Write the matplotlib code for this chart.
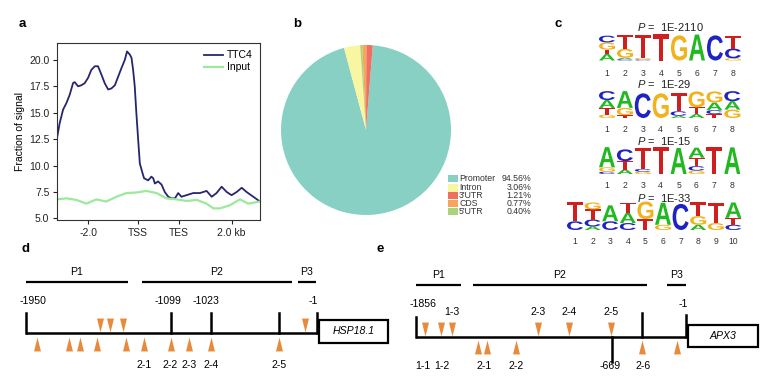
import matplotlib
matplotlib.use("Agg")
import matplotlib.pyplot as plt
from matplotlib.textpath import TextPath
from matplotlib.font_manager import FontProperties
from matplotlib.patches import PathPatch, Rectangle
import matplotlib.transforms as mtransforms

plt.rcParams['font.family'] = ['Liberation Sans', 'DejaVu Sans']
plt.rcParams['mathtext.fontset'] = 'custom'
plt.rcParams['mathtext.rm'] = 'Liberation Sans'
plt.rcParams['mathtext.it'] = 'Liberation Sans:italic'

# ---------------- Panel a data ----------------
ttc4_x = [0, 1.3, 3, 4.6, 6.25, 7.9, 8.7, 10.4, 12, 13.65, 15.3, 16.9, 18.6, 20.2, 21.9,
          23.5, 25.2, 26.8, 28.5, 30.1, 31.7, 33.4, 34.5, 35.9, 36.7, 37.5, 38.3, 39.1,
          40, 40.8, 42.1, 42.9, 44.9, 46.5, 47.4, 48.2, 49.8, 51.5, 53.1, 54.8, 56.4,
          58.1, 59.7, 61.3, 63.8, 67.1, 70.4, 73.7, 76.2, 78.6, 81.1, 83.6, 86, 88.5,
          91, 93.4, 96.7, 100]
ttc4_y = [12.6, 14.0, 15.3, 15.9, 16.7, 17.8, 17.9, 17.5, 17.6, 17.8, 18.3, 19.05, 19.4,
          19.4, 18.6, 17.8, 17.2, 17.3, 17.6, 18.4, 19.2, 20.0, 20.8, 20.5, 20.2, 19.05,
          17.5, 14.95, 12.4, 10.2, 9.3, 8.8, 8.6, 8.95, 8.8, 8.3, 8.5, 8.2, 7.5, 7.05,
          6.9, 6.9, 7.4, 7.05, 7.2, 7.4, 7.4, 7.6, 7.05, 7.4, 8.0, 7.5, 7.2, 7.5, 7.9,
          7.5, 7.05, 6.6]
input_x = [0, 4.6, 9.5, 14.5, 19.4, 24.3, 29.3, 34.2, 39.1, 44.1, 49, 53.9, 58.9, 63.8,
           68.8, 73.7, 77, 80.3, 85.2, 90.1, 94.2, 100]
input_y = [6.8, 6.9, 6.75, 6.4, 6.8, 6.6, 7.05, 7.4, 7.45, 7.6, 7.4, 6.9, 6.8, 6.65,
           6.75, 6.4, 5.95, 5.95, 6.25, 6.8, 6.4, 6.6]
a_xticks = [15.3, 40, 60, 86]
a_xticklabels = ['-2.0', 'TSS', 'TES', '2.0 kb']
a_yticks = [5.0, 7.5, 10.0, 12.5, 15.0, 17.5, 20.0]

# ---------------- Panel b data ----------------
pie_labels = ['Promoter', 'Intron', '3\'UTR', 'CDS', '5\'UTR']
pie_values = [94.56, 3.06, 1.21, 0.77, 0.40]
pie_colors = ['#88d0c4', '#f9f6a2', '#ef705e', '#f5a65c', '#a9d47c']
pie_draw_order = [0, 1, 4, 3, 2]

# ---------------- Panel c data ----------------
logo_titles = ['1E-2110', '1E-29', '1E-15', '1E-33']
motif1 = [
    [('A', 0.24), ('T', 0.16), ('G', 0.27), ('C', 0.25)],
    [('C', 0.05), ('A', 0.05), ('G', 0.33), ('T', 0.53)],
    [('C', 0.04), ('G', 0.05), ('T', 0.87)],
    [('T', 0.97)],
    [('G', 0.93)],
    [('A', 0.96)],
    [('C', 0.93)],
    [('G', 0.08), ('C', 0.36), ('T', 0.47)],
]
motif2 = [
    [('G', 0.12), ('T', 0.24), ('A', 0.28), ('C', 0.32)],
    [('T', 0.1), ('G', 0.26), ('A', 0.6)],
    [('C', 0.88)],
    [('G', 0.88)],
    [('A', 0.08), ('C', 0.16), ('T', 0.66)],
    [('A', 0.14), ('T', 0.24), ('G', 0.57)],
    [('T', 0.14), ('C', 0.14), ('A', 0.27), ('G', 0.4)],
    [('G', 0.3), ('A', 0.3), ('C', 0.36)],
]
motif3 = [
    [('C', 0.08), ('G', 0.16), ('A', 0.72)],
    [('A', 0.16), ('T', 0.3), ('C', 0.42)],
    [('G', 0.08), ('C', 0.1), ('T', 0.75)],
    [('T', 0.97)],
    [('A', 0.93)],
    [('G', 0.12), ('C', 0.16), ('T', 0.3), ('A', 0.36)],
    [('T', 0.97)],
    [('A', 0.95)],
]
motif4 = [
    [('C', 0.3), ('T', 0.65)],
    [('A', 0.12), ('C', 0.24), ('T', 0.35), ('G', 0.24)],
    [('C', 0.3), ('A', 0.55)],
    [('C', 0.24), ('A', 0.35), ('T', 0.35)],
    [('T', 0.38), ('G', 0.6)],
    [('G', 0.18), ('A', 0.76)],
    [('C', 0.9)],
    [('A', 0.18), ('G', 0.3), ('T', 0.47)],
    [('G', 0.24), ('T', 0.7)],
    [('C', 0.18), ('T', 0.24), ('A', 0.53)],
]
motifs = [motif1, motif2, motif3, motif4]
letter_colors = {'A': '#22b822', 'C': '#1f22c4', 'G': '#f2b21e', 'T': '#cf1f1f'}

# ---------------- Panel d data ----------------
d_bars = [(26, 128, 'P1'), (142, 292, 'P2'), (298, 316, 'P3')]
d_ticks_x = [26, 171, 211, 279, 317]
d_coord_labels = [('-1950', 33), ('-1099', 168), ('-1023', 206), ('-1', 313)]
d_down = [100, 110, 123, 305]
d_up = [37, 69, 80, 97, 126, 144, 171, 189, 211, 279]
d_site_labels = [('2-1', 144), ('2-2', 170), ('2-3', 189), ('2-4', 211), ('2-5', 279)]
d_gene = 'HSP18.1'

# ---------------- Panel e data ----------------
e_bars = [(416, 461, 'P1'), (473, 647, 'P2'), (667, 686, 'P3')]
e_coord_labels_top = [('-1856', 423), ('-1', 683)]
e_site_labels_top = [('1-3', 452), ('2-3', 538), ('2-4', 569), ('2-5', 611)]
e_down = [425, 441, 452, 538, 569, 611]
e_up = [478, 487, 516, 642, 677]
e_site_labels_bottom = [('1-1', 423), ('1-2', 442), ('2-1', 484), ('2-2', 516),
                        ('-669', 610), ('2-6', 643)]
e_gene = 'APX3'

W, H = 775, 379
fig = plt.figure(figsize=(W / 100, H / 100), dpi=100)

# overlay axes in pixel coordinates
ov = fig.add_axes([0, 0, 1, 1])
ov.set_xlim(0, W)
ov.set_ylim(H, 0)
ov.axis('off')
ov.patch.set_visible(False)

# ---- Panel a ----
ax = fig.add_axes([57 / W, 1 - 220 / H, 203 / W, 177 / H])
ax.plot(ttc4_x, ttc4_y, color='#26266f', lw=1.3, label='TTC4')
ax.plot(input_x, input_y, color='#9be99b', lw=1.6, label='Input')
ax.set_xlim(0, 100)
ax.set_ylim(4.85, 21.6)
ax.set_yticks(a_yticks)
ax.set_yticklabels([f'{v:.1f}' for v in a_yticks], fontsize=7.5)
ax.set_xticks(a_xticks)
ax.set_xticklabels(a_xticklabels, fontsize=7.5)
ax.tick_params(length=3, width=0.8, pad=2.5, colors='#222222')
for s in ax.spines.values():
    s.set_linewidth(0.8)
    s.set_color('#333333')
ax.set_ylabel('Fraction of signal', fontsize=7.5, labelpad=3)
ax.legend(loc='upper right', frameon=False, fontsize=7.5, handlelength=1.8,
          borderaxespad=0.3, labelspacing=0.2, handletextpad=0.4)

# ---- Panel b ----
cx, cy, r = 366, 130, 85
axp = fig.add_axes([(cx - r) / W, 1 - (cy + r) / H, 2 * r / W, 2 * r / H])
vals = [pie_values[i] for i in pie_draw_order]
cols = [pie_colors[i] for i in pie_draw_order]
axp.pie(vals, colors=cols, startangle=85.4, counterclock=False,
        wedgeprops=dict(linewidth=0))
axp.set_xlim(-1, 1)
axp.set_ylim(-1, 1)
axp.set_aspect('equal')

leg_y = [178.5, 188, 195.5, 203.5, 211.5]
for lab, val, col, y in zip(pie_labels, pie_values, pie_colors, leg_y):
    ov.add_patch(Rectangle((448, y - 3.6), 10, 7.2, color=col, lw=0))
    ov.text(459, y, lab, fontsize=6.3, va='center', ha='left', color='#333333')
    ov.text(531, y, f'{val:.2f}%', fontsize=6.3, va='center', ha='right', color='#333333')

# ---- Panel c ----
fp = FontProperties(family='Liberation Sans', weight='bold')
letter_paths = {}
for L in 'ACGT':
    letter_paths[L] = TextPath((0, 0), L, size=1, prop=fp)


def draw_letter(L, xc, ybot, w, h):
    p = letter_paths[L]
    ext = p.get_extents()
    tr = (mtransforms.Affine2D()
          .translate(-ext.x0, -ext.y0)
          .scale(w / ext.width, -h / ext.height)
          .translate(xc - w / 2, ybot))
    ov.add_patch(PathPatch(tr.transform_path(p), color=letter_colors[L], lw=0))


logo_layout = [
    dict(x0=607, step=18, bottom=60.5, height=27, num_y=73.5, title_y=27),
    dict(x0=607, step=17.9, bottom=118, height=28, num_y=129.5, title_y=84.5),
    dict(x0=607, step=17.9, bottom=174, height=28, num_y=185, title_y=141),
    dict(x0=575, step=17.6, bottom=230, height=29, num_y=241.5, title_y=197.5),
]
for motif, lay, title in zip(motifs, logo_layout, logo_titles):
    for i, col in enumerate(motif):
        xc = lay['x0'] + i * lay['step']
        yb = lay['bottom']
        for L, frac in col:
            h = frac * lay['height']
            draw_letter(L, xc, yb, 16, h)
            yb -= h
        ov.text(xc, lay['num_y'], str(i + 1), fontsize=6.2, ha='center', va='center',
                color='#333333')
    ov.text(637, lay['title_y'], r'$P$ =  ' + title, fontsize=8.0, ha='left',
            va='center', color='#222222')

# ---- Panel labels ----
for lab, x, y in [('a', 22, 24), ('b', 297, 24), ('c', 558, 24), ('d', 25, 249),
                  ('e', 380, 249)]:
    ov.text(x, y, lab, fontsize=9.5, fontweight='bold', ha='center', va='center')

tri_down = [(-0.5, 1), (0.5, 1), (0, -1), (-0.5, 1)]
tri_up = [(-0.5, -1), (0.5, -1), (0, 1), (-0.5, -1)]
tri_col = '#e88a3c'
fs = 7.6


def draw_diagram(bars, bar_y, label_y, base_y, x0, x1, box, gene, down, down_y, up, up_y):
    for a, b, lab in bars:
        ov.plot([a, b], [bar_y, bar_y], color='black', lw=1.6, solid_capstyle='butt')
        ov.text((a + b) / 2, label_y, lab, fontsize=fs, ha='center', va='center')
    ov.plot([x0, x1], [base_y, base_y], color='black', lw=1.8, solid_capstyle='butt')
    bx0, bx1, by0, by1 = box
    ov.add_patch(Rectangle((bx0, by0), bx1 - bx0, by1 - by0, fill=False,
                           ec='black', lw=1.6))
    ov.text((bx0 + bx1) / 2, (by0 + by1) / 2, gene, fontsize=fs, style='italic',
            ha='center', va='center')
    ov.plot(down, [down_y] * len(down), ls='none', marker=tri_down, ms=10,
            color=tri_col, mew=0)
    ov.plot(up, [up_y] * len(up), ls='none', marker=tri_up, ms=10,
            color=tri_col, mew=0)


# ---- Panel d ----
draw_diagram(d_bars, 282, 272, 333, 26, 317, (319, 388, 320, 343), d_gene,
             d_down, 325, d_up, 343.5)
for x in d_ticks_x:
    ov.plot([x, x], [313, 333], color='black', lw=1.8)
for lab, x in d_coord_labels:
    ov.text(x, 301, lab, fontsize=fs, ha='center', va='center')
for lab, x in d_site_labels:
    ov.text(x, 365, lab, fontsize=fs, ha='center', va='center')

# ---- Panel e ----
draw_diagram(e_bars, 285, 275, 337, 416, 686, (688, 758, 325, 347), e_gene,
             e_down, 328.5, e_up, 346.5)
ov.plot([416, 416], [317, 337], color='black', lw=1.8)
ov.plot([642, 642], [313, 337], color='black', lw=1.8)
ov.plot([686, 686], [315, 337], color='black', lw=1.8)
ov.plot([612, 612], [337, 362], color='black', lw=1.8)
for lab, x in e_coord_labels_top:
    ov.text(x, 304, lab, fontsize=fs, ha='center', va='center')
for lab, x in e_site_labels_top:
    ov.text(x, 312, lab, fontsize=fs, ha='center', va='center')
for lab, x in e_site_labels_bottom:
    ov.text(x, 366, lab, fontsize=fs, ha='center', va='center')

fig.savefig('out.png', dpi=100)
